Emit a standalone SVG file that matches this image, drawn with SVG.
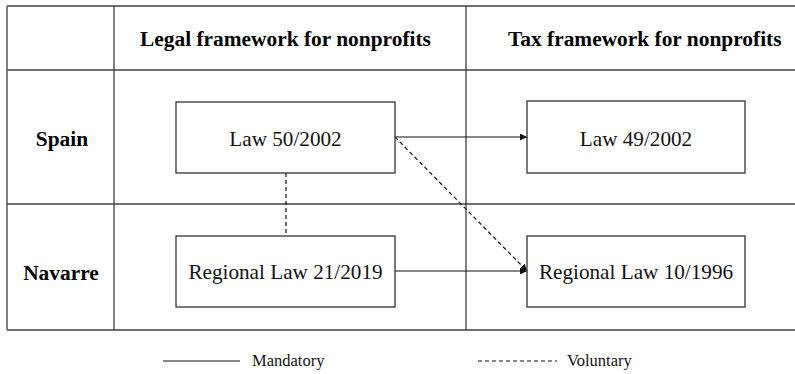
<svg xmlns="http://www.w3.org/2000/svg" width="795" height="374" viewBox="0 0 795 374">
<style>
.grid{stroke:#404040;stroke-width:1.3;fill:none}
.box{fill:#fff;stroke:#333;stroke-width:1.3}
.hdr{font-family:"Liberation Serif",serif;font-weight:bold;font-size:21.4px;fill:#000}
.lbl{font-family:"Liberation Serif",serif;font-size:21.2px;fill:#111;text-anchor:middle}
.leg{font-family:"Liberation Serif",serif;font-size:16.5px;fill:#111}
.solid{stroke:#111;stroke-width:1.2;fill:none}
.dash{stroke:#111;stroke-width:1.2;fill:none;stroke-dasharray:4 3}
</style>
<defs>
<marker id="ah" viewBox="0 0 10 10" refX="10" refY="5" markerWidth="7" markerHeight="7" markerUnits="userSpaceOnUse" orient="auto">
<path d="M0,0 L10,5 L0,10 z" fill="#111"/>
</marker>
</defs>
<g id="table">
<path class="grid" d="M7,6 H795 M7,70 H795 M7,204 H795 M7,330 H795 M7,6 V330 M114,6 V330 M466,6 V330"/>
<text class="hdr" x="140" y="46">Legal framework for nonprofits</text>
<text class="hdr" x="508" y="46">Tax framework for nonprofits</text>
<text class="hdr" x="62" y="146" text-anchor="middle">Spain</text>
<text class="hdr" x="61" y="280" text-anchor="middle">Navarre</text>
</g>
<g id="connectors">
<line class="solid" x1="395" y1="137" x2="527" y2="137" marker-end="url(#ah)"/>
<line class="dash" x1="395" y1="137" x2="527" y2="271" marker-end="url(#ah)"/>
<line class="solid" x1="395" y1="271" x2="527" y2="271" marker-end="url(#ah)"/>
<line class="dash" x1="286" y1="173" x2="286" y2="236"/>
</g>
<g id="law50">
<rect class="box" x="176" y="102" width="219" height="71"/>
<text class="lbl" x="285.5" y="146">Law 50/2002</text>
</g>
<g id="law49">
<rect class="box" x="527" y="101" width="218" height="72"/>
<text class="lbl" x="636" y="146">Law 49/2002</text>
</g>
<g id="rl21">
<rect class="box" x="176" y="236" width="219" height="71"/>
<text class="lbl" x="285.5" y="279">Regional Law 21/2019</text>
</g>
<g id="rl10">
<rect class="box" x="527" y="236" width="218" height="71"/>
<text class="lbl" x="636" y="279">Regional Law 10/1996</text>
</g>
<g id="legend">
<line class="solid" x1="163" y1="361" x2="240" y2="361"/>
<text class="leg" x="252" y="366">Mandatory</text>
<line class="dash" x1="478" y1="361" x2="557" y2="361"/>
<text class="leg" x="567" y="366">Voluntary</text>
</g>
</svg>
